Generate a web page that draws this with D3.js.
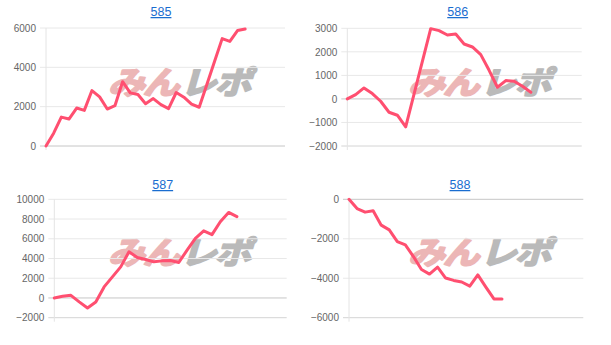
<!DOCTYPE html>
<html><head><meta charset="utf-8">
<script src="https://cdn.jsdelivr.net/npm/d3@7"></script>
<style>body{margin:0;background:#fff}svg{display:block}</style>
</head><body>
<svg id="c" width="611" height="345"></svg>
<script>
const titles = ["585", "586", "587", "588"];
const values585 = [0, 650, 1470, 1370, 1930, 1810, 2820, 2500, 1880, 2050, 3270, 2700, 2620, 2150, 2410, 2100, 1900, 2720, 2480, 2130, 1970, 3130, 4300, 5460, 5320, 5870, 5950];
const values586 = [0, 184, 467, 226, -99, -566, -693, -1188, 200, 1590, 2985, 2900, 2716, 2758, 2334, 2207, 1881, 1216, 495, 778, 750, 537, 283];
const values587 = [0, 170, 270, -400, -1020, -410, 1120, 2140, 3150, 4680, 4100, 3900, 3660, 3760, 3800, 3600, 4850, 6030, 6800, 6420, 7730, 8670, 8240];
const values588 = [0, -470, -650, -580, -1310, -1550, -2140, -2310, -2900, -3560, -3790, -3440, -3990, -4110, -4190, -4400, -3830, -4450, -5050, -5050];
const yTicks585 = [0, 2000, 4000, 6000];
const yTicks586 = [-2000, -1000, 0, 1000, 2000, 3000];
const yTicks587 = [-2000, 0, 2000, 4000, 6000, 8000, 10000];
const yTicks588 = [-6000, -4000, -2000, 0];

const series = [values585, values586, values587, values588];
const tickSets = [yTicks585, yTicks586, yTicks587, yTicks588];
const layout = [
  {left: 46, right: 285, top: 28, bottom: 146, tx: 161, ty: 16, xMax: 31.2, ox: 0, oy: 0},
  {left: 347.3, right: 581.7, top: 28.3, bottom: 146, tx: 457.7, ty: 16, xMax: 28.1, ox: 300, oy: 0},
  {left: 54.3, right: 286.7, top: 199.3, bottom: 317.7, tx: 162.7, ty: 189, xMax: 28, ox: 0, oy: 170},
  {left: 349, right: 583.3, top: 199.3, bottom: 317.7, tx: 460, ty: 189, xMax: 29.1, ox: 300, oy: 170}
];

const svg = d3.select("#c");
const font = "'Liberation Sans', Arial, Helvetica, sans-serif";

series.forEach((vals, k) => {
  const L = layout[k];
  const ticks = tickSets[k];
  const g = svg.append("g");
  const x = d3.scaleLinear().domain([0, L.xMax]).range([L.left, L.right]);
  const y = d3.scaleLinear().domain(d3.extent(ticks)).range([L.bottom, L.top]);

  // title link
  g.append("text").attr("x", L.tx).attr("y", L.ty).attr("text-anchor", "middle")
    .attr("font-family", font).attr("font-size", "12.5px").attr("fill", "#1a6dd0")
    .attr("text-decoration", "underline").text(titles[k]);

  // watermark
  const wm = g.append("g").attr("transform", `translate(${L.ox},${L.oy})`);
  wm.append("text").attr("x", 0).attr("y", 0)
    .attr("transform", "translate(108,94) skewX(-16) scale(1.05,0.9)")
    .attr("font-family", "'Noto Sans CJK JP', sans-serif").attr("font-weight", "bold")
    .attr("font-size", "35px").attr("letter-spacing", "-2px")
    .attr("fill", "#ecb6b6").attr("stroke", "#ecb6b6").attr("stroke-width", 2.2)
    .attr("stroke-linejoin", "round").text("みん");
  wm.append("text").attr("x", 0).attr("y", 0)
    .attr("transform", "translate(180,94) skewX(-16) scale(1.05,0.9)")
    .attr("font-family", "'Noto Sans CJK JP', sans-serif").attr("font-weight", "bold")
    .attr("font-size", "35px").attr("letter-spacing", "-2px")
    .attr("fill", "#bababa").attr("stroke", "#bababa").attr("stroke-width", 2.2)
    .attr("stroke-linejoin", "round").text("レポ");

  // gridlines
  g.selectAll("line.grid").data(ticks).enter().append("line")
    .attr("x1", L.left - 6).attr("x2", L.right)
    .attr("y1", d => y(d)).attr("y2", d => y(d))
    .attr("stroke", d => d === 0 ? "#c6c6c6" : (d === ticks[0] ? "#d4d4d4" : "#e8e8e8"))
    .attr("stroke-width", 1);
  // left axis line
  g.append("line").attr("x1", L.left).attr("x2", L.left)
    .attr("y1", L.top).attr("y2", L.bottom + 4)
    .attr("stroke", "#e4e4e4").attr("stroke-width", 1);

  // tick labels via axis
  const axis = d3.axisLeft(y).tickValues(ticks).tickSize(0).tickPadding(10).tickFormat(d3.format("d"));
  const ag = g.append("g").attr("transform", `translate(${L.left},0)`).call(axis);
  ag.select(".domain").remove();
  ag.selectAll("text").attr("font-family", font).attr("font-size", "10px").attr("fill", "#666");

  // series line
  const line = d3.line().x((d, i) => x(i)).y(d => y(d));
  g.append("path").datum(vals).attr("d", line)
    .attr("fill", "none").attr("stroke", "#ff4f70").attr("stroke-width", 3)
    .attr("stroke-linejoin", "round").attr("stroke-linecap", "round");
});
</script>
</body></html>
